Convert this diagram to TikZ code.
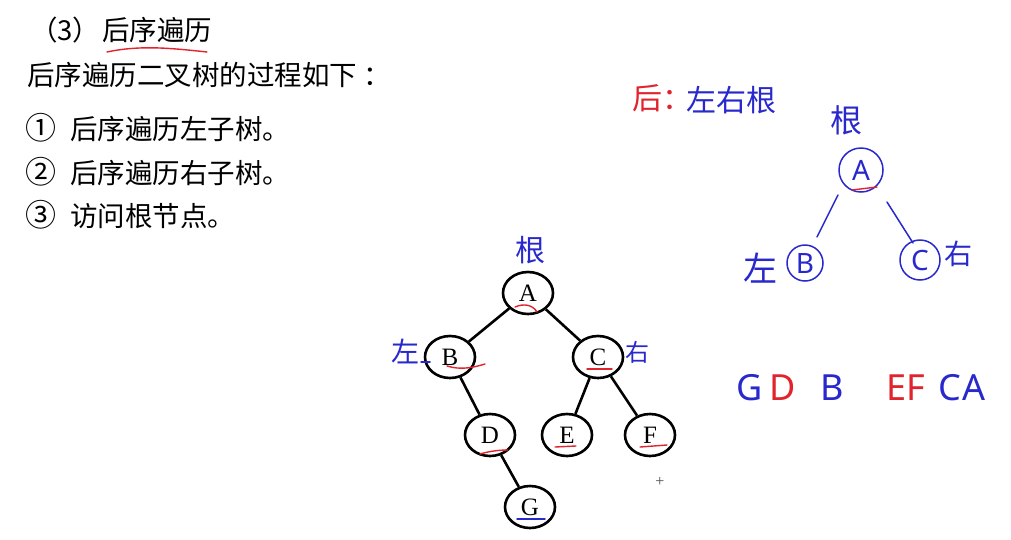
\documentclass[tikz,border=0pt]{standalone}
\usepackage{fontspec}
\setmainfont{Liberation Serif}
\newfontfamily\cjk{Noto Sans CJK SC}
\newfontfamily\hsans{Noto Sans}
\usetikzlibrary{shapes.geometric}
\definecolor{hblue}{RGB}{40,40,205}
\definecolor{hred}{RGB}{225,35,45}
\begin{document}
\begin{tikzpicture}[x=1pt,y=-1pt,
  body/.style={anchor=west,inner sep=0pt,font=\cjk\fontsize{27.5}{28}\selectfont},
  tn/.style={ellipse,draw,line width=2.6pt,minimum width=50pt,minimum height=42pt,inner sep=0pt,font=\fontsize{25}{25}\selectfont},
  tedge/.style={line width=2.6pt},
  hb/.style={text=hblue,inner sep=0pt,font=\cjk\fontsize{#1}{#1}\selectfont},
  hr/.style={text=hred,inner sep=0pt,font=\cjk\fontsize{#1}{#1}\selectfont},
  hl/.style={text=hblue,inner sep=0pt,font=\hsans\fontsize{36}{36}\selectfont},
  hlr/.style={text=hred,inner sep=0pt,font=\hsans\fontsize{36}{36}\selectfont},
  ulr/.style={draw=hred,line width=1.4pt,line cap=round},
  ulb/.style={draw=hblue,line width=1.4pt,line cap=round},
  hcirc/.style={circle,draw=hblue,line width=1.5pt,inner sep=0pt,text=hblue,font=\hsans\fontsize{28}{28}\selectfont},
  hline/.style={draw=hblue,line width=1.5pt,line cap=round}]
\useasboundingbox (0,0) rectangle (1011,539);
\fill[white] (0,0) rectangle (1011,539);

% left text
\node[body] (t0) at (30,30) {（3）\hspace{2pt}后序遍历};
\node[body] (t1) at (27,75) {后序遍历二叉树的过程如下\hspace{6pt}：};
\node[body] (t2) at (25,128) {{\fontsize{31}{31}\selectfont ①}\hspace{14pt}后序遍历左子树。};
\node[body] (t3) at (25,172) {{\fontsize{31}{31}\selectfont ②}\hspace{14pt}后序遍历右子树。};
\node[body] (t4) at (25,215) {{\fontsize{31}{31}\selectfont ③}\hspace{14pt}访问根节点。};
\draw[ulr] (107,52) .. controls (140,45) and (170,48) .. (207,52);

% tree
\node[tn] (A) at (528,293) {A};
\node[tn] (B) at (450,357) {B};
\node[tn] (C) at (598,357) {C};
\node[tn] (D) at (490,435) {D};
\node[tn] (E) at (567,435) {E};
\node[tn] (F) at (650,435) {F};
\node[tn] (G) at (530,507) {G};
\draw[tedge] (A) -- (B);
\draw[tedge] (A) -- (C);
\draw[tedge] (B) -- (D);
\draw[tedge] (D) -- (G);
\draw[tedge] (C) -- (E);
\draw[tedge] (C) -- (F);

% underlines on tree
\draw[ulr] (515,307) .. controls (524,303) and (533,305) .. (537,312);
\draw[ulr] (447,366) .. controls (460,370) and (472,368) .. (485,364);
\draw[ulr] (587,369) -- (612,369);
\draw[ulr] (480,454) .. controls (490,451) and (500,450) .. (508,450);
\draw[ulr] (555,447) -- (576,446);
\draw[ulr] (640,447) -- (667,445);
\draw[ulb] (517,519) -- (545,519);

% annotations on tree
\node[hb=30] (gen1) at (530,250) {根};
\node[hb=28] (zuo1) at (405,351) {左};
\node[hb=24] (you1) at (637,352) {右};
\draw[hline] (421,362) -- (430,362);

% cross mark
\node[inner sep=0pt,font=\fontsize{16}{16}\selectfont,text=black!70] (plus) at (660,482) {+};

% right side
\node[hr=30,anchor=west] (hou) at (632,98) {后：};
\node[hb=30,anchor=west] (zyg) at (686,100) {左右根};
\node[hb=32] (gen2) at (846,120) {根};
\node[hcirc,minimum size=44pt] (ca) at (861,170) {A};
\node[hcirc,minimum size=36pt] (cb) at (805,263) {B};
\node[hcirc,minimum size=40pt] (cc) at (920,260) {C};
\node[hb=34] (zuo2) at (760,268) {左};
\node[hb=28] (you2) at (958,254) {右};
\coordinate (l1a) at (838,195);
\coordinate (l1b) at (817,237);
\coordinate (l2a) at (887,202);
\coordinate (l2b) at (913,243);
\draw[hline] (l1a) -- (l1b);
\draw[hline] (l2a) -- (l2b);
\draw[ulr] (852,190) -- (877,187);

% sequence
\node[hl] (sG) at (750,388) {G};
\node[hlr] (sD) at (783,388) {D};
\node[hl] (sB) at (832,388) {B};
\node[hlr] (sE) at (896,388) {E};
\node[hlr] (sF) at (916,388) {F};
\node[hl] (sC) at (950,388) {C};
\node[hl] (sA) at (974,388) {A};
\end{tikzpicture}
\end{document}
